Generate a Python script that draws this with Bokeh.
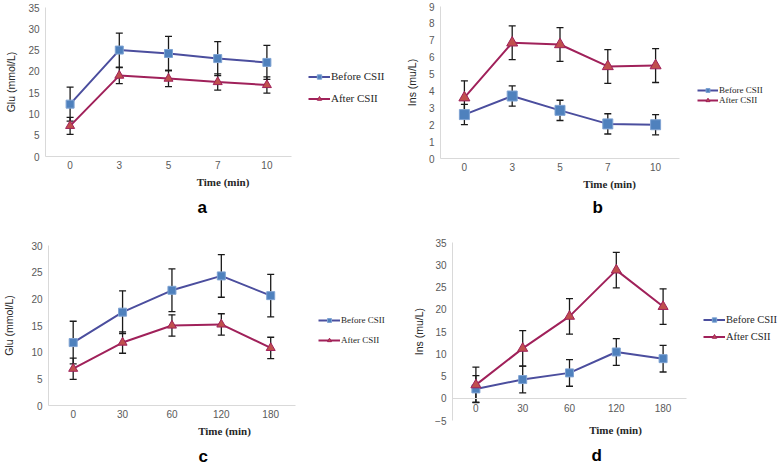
from bokeh.plotting import figure
from bokeh.models import (ColumnDataSource, Whisker, TeeHead, Legend, LegendItem,
                          FixedTicker, Range1d, Title, LinearAxis)
from bokeh.layouts import row, column
from bokeh.embed import file_html
from bokeh.resources import INLINE

# ---------------- data ----------------
time_ab = ["0", "3", "5", "7", "10"]
time_cd = ["0", "30", "60", "120", "180"]
series_names = ["Before CSII", "After CSII"]
x_title = "Time (min)"
panel_letters = ["a", "b", "c", "d"]
y_titles = ["Glu (mmol/L)", "Ins (mu/L)", "Glu (mmol/L)", "Ins (mu/L)"]

glu_a_before = [12.3, 25.0, 24.2, 23.0, 22.1]
glu_a_before_sd = [4.0, 4.0, 4.0, 4.0, 4.0]
glu_a_after = [7.2, 19.0, 18.3, 17.5, 16.8]
glu_a_after_sd = [2.0, 1.9, 1.9, 1.9, 1.9]

ins_b_before = [2.6, 3.7, 2.85, 2.05, 2.0]
ins_b_before_sd = [0.6, 0.6, 0.6, 0.6, 0.6]
ins_b_after = [3.6, 6.85, 6.75, 5.45, 5.5]
ins_b_after_sd = [1.0, 1.0, 1.0, 1.0, 1.0]

glu_c_before = [11.8, 17.5, 21.6, 24.3, 20.6]
glu_c_before_sd = [4.0, 4.0, 4.0, 4.0, 4.0]
glu_c_after = [6.9, 11.8, 15.0, 15.2, 10.8]
glu_c_after_sd = [2.0, 2.0, 2.0, 2.0, 2.0]

ins_d_before = [2.1, 4.2, 5.7, 10.4, 8.9]
ins_d_before_sd = [3.0, 3.0, 3.0, 3.0, 3.0]
ins_d_after = [3.0, 11.2, 18.4, 28.8, 20.6]
ins_d_after_sd = [4.0, 4.0, 4.0, 4.0, 4.0]

y_axes = [(0, 35, 5), (0, 9, 1), (0, 30, 5), (-5, 35, 5)]

# ---------------- style ----------------
BEFORE_LINE = "#4B4E9E"
BEFORE_FILL = "#4F81BD"
BEFORE_EDGE = "#7FA3D3"
AFTER_LINE = "#A0215A"
AFTER_FILL = "#C0504D"
AXIS_COLOR = "#D9D9D9"
TICK_COLOR = "#595959"
TEXT_COLOR = "#262626"
ERR_COLOR = "#1A1A1A"


def make_title(letter, L):
    kw = dict(text=letter, align="left", offset=L["toff"], text_font="Liberation Sans",
              text_font_style="bold", text_font_size="17px", text_color="black")
    try:
        return Title(standoff=L["tst"], **kw)
    except Exception:
        return Title(standoff=0, **kw)


def style_axis(ax):
    ax.axis_line_color = AXIS_COLOR
    ax.axis_line_width = 1
    ax.major_tick_line_color = None
    ax.minor_tick_line_color = None
    ax.major_tick_out = 0
    ax.major_tick_in = 0
    ax.minor_tick_out = 0
    ax.minor_tick_in = 0
    ax.major_label_text_font = "Liberation Sans"
    ax.major_label_text_font_size = "10px"
    ax.major_label_text_color = TICK_COLOR


def style_xtitle(ax):
    ax.axis_label = x_title
    ax.axis_label_text_font = "Liberation Serif"
    ax.axis_label_text_font_style = "bold"
    ax.axis_label_text_font_size = "11px"
    ax.axis_label_text_color = TEXT_COLOR


def make_panel(cats, before, before_sd, after, after_sd, y_title, yax, letter, L):
    y0, y1, ystep = yax
    n = len(cats)
    xs = list(range(n))
    frame_w = L["w"] - L["bl"]
    x_end = -0.5 + n * frame_w / L["pw"]
    p = figure(width=L["w"], height=L["h"],
               output_backend="svg", toolbar_location=None,
               min_border_left=L["bl"], min_border_top=L["bt"], min_border_right=0,
               min_border_bottom=L["h"] - L["bt"] - L["fh"])
    try:
        p.frame_align = False
    except Exception:
        pass
    p.x_range = Range1d(-0.5, x_end)
    p.y_range = Range1d(y0, y1)
    p.outline_line_color = None
    p.xgrid.visible = False
    p.ygrid.visible = False
    p.background_fill_color = "white"
    p.border_fill_color = "white"

    for ax in (p.xaxis, p.yaxis):
        style_axis(ax)
    p.xaxis.bounds = (-0.5, n - 0.5)
    p.xaxis.ticker = FixedTicker(ticks=xs)
    p.xaxis.major_label_overrides = {i: c for i, c in zip(xs, cats)}
    p.xaxis.major_label_standoff = L["xst"]
    p.yaxis.ticker = FixedTicker(ticks=list(range(y0, y1 + 1, ystep)))
    p.yaxis.axis_label = y_title
    p.yaxis.axis_label_text_font = "Liberation Sans"
    p.yaxis.axis_label_text_font_style = "normal"
    p.yaxis.axis_label_text_font_size = "10.5px"
    p.yaxis.axis_label_text_color = TEXT_COLOR
    p.yaxis.major_label_standoff = 6
    p.yaxis.axis_label_standoff = L["yst"]

    if y0 < 0:
        # category axis crosses the value axis at 0; title carried by a bare axis below
        p.xaxis.fixed_location = 0
        tax = LinearAxis(ticker=FixedTicker(ticks=[]), bounds=(-0.5, n - 0.5))
        style_axis(tax)
        tax.axis_line_color = None
        tax.major_label_standoff = 0
        tax.axis_label_standoff = 3
        style_xtitle(tax)
        p.add_layout(tax, "below")
    else:
        style_xtitle(p.xaxis[0])
        p.xaxis.axis_label_standoff = 4

    items = []
    specs = [(before, before_sd, BEFORE_LINE, BEFORE_FILL, BEFORE_EDGE, "square", L["sq"]),
             (after, after_sd, AFTER_LINE, AFTER_FILL, AFTER_LINE, "triangle", L["tri"])]
    for name, (vals, sd, lc, fc, mlc, mk, ms) in zip(series_names, specs):
        src = ColumnDataSource(dict(
            x=xs, y=vals,
            upper=[v + s for v, s in zip(vals, sd)],
            lower=[v - s for v, s in zip(vals, sd)]))
        w = Whisker(source=src, base="x", upper="upper", lower="lower",
                    line_color=ERR_COLOR, line_width=1.3,
                    upper_head=TeeHead(size=7, line_color=ERR_COLOR, line_width=1.3),
                    lower_head=TeeHead(size=7, line_color=ERR_COLOR, line_width=1.3))
        w.level = "underlay"
        p.add_layout(w)
        rl = p.line("x", "y", source=src, line_color=lc, line_width=2)
        rm = p.scatter("x", "y", source=src, marker=mk, size=ms,
                       fill_color=fc, line_color=mlc, line_width=1)
        items.append(LegendItem(label=name, renderers=[rl, rm]))

    leg = Legend(items=items, location=L["loc"], padding=0, margin=0,
                 spacing=L["sp"], glyph_width=L["gw"], glyph_height=L["row"],
                 label_height=L["row"], label_standoff=1,
                 label_text_font="Liberation Serif",
                 label_text_font_size=L["lfs"], label_text_color=TEXT_COLOR,
                 background_fill_alpha=0, border_line_color=None)
    p.add_layout(leg)

    p.add_layout(make_title(letter, L), "below")
    return p


ROW1_H = 236
ROW2_H = 234

LA = dict(w=400, h=ROW1_H, bl=45, bt=7, pw=246, fh=149, yst=8, sq=8, tri=9, xst=4,
          toff=152, tst=10, loc=(263, 52), sp=10, row=11, lfs="11px", gw=22)
LB = dict(w=378, h=ROW1_H, bl=40, bt=6, pw=239, fh=152, yst=8, sq=10, tri=11, xst=4,
          toff=152, tst=6, loc=(257, 53), sp=0, row=10, lfs="9px", gw=21)
LC = dict(w=400, h=ROW2_H, bl=45, bt=9, pw=249, fh=161, yst=13, sq=8, tri=9, xst=4,
          toff=150, tst=10, loc=(270, 60), sp=10, row=10, lfs="9px", gw=22)
LD = dict(w=378, h=ROW2_H, bl=52, bt=6, pw=234, fh=181, yst=7, sq=8, tri=10, xst=6,
          toff=139, tst=11, loc=(251, 78), sp=6, row=11, lfs="10.5px", gw=22)

pa = make_panel(time_ab, glu_a_before, glu_a_before_sd, glu_a_after, glu_a_after_sd,
                y_titles[0], y_axes[0], panel_letters[0], LA)
pb = make_panel(time_ab, ins_b_before, ins_b_before_sd, ins_b_after, ins_b_after_sd,
                y_titles[1], y_axes[1], panel_letters[1], LB)
pc = make_panel(time_cd, glu_c_before, glu_c_before_sd, glu_c_after, glu_c_after_sd,
                y_titles[2], y_axes[2], panel_letters[2], LC)
pd_ = make_panel(time_cd, ins_d_before, ins_d_before_sd, ins_d_after, ins_d_after_sd,
                 y_titles[3], y_axes[3], panel_letters[3], LD)

layout = column(row(pa, pb), row(pc, pd_))
open("out.html", "w").write(file_html(layout, INLINE))
